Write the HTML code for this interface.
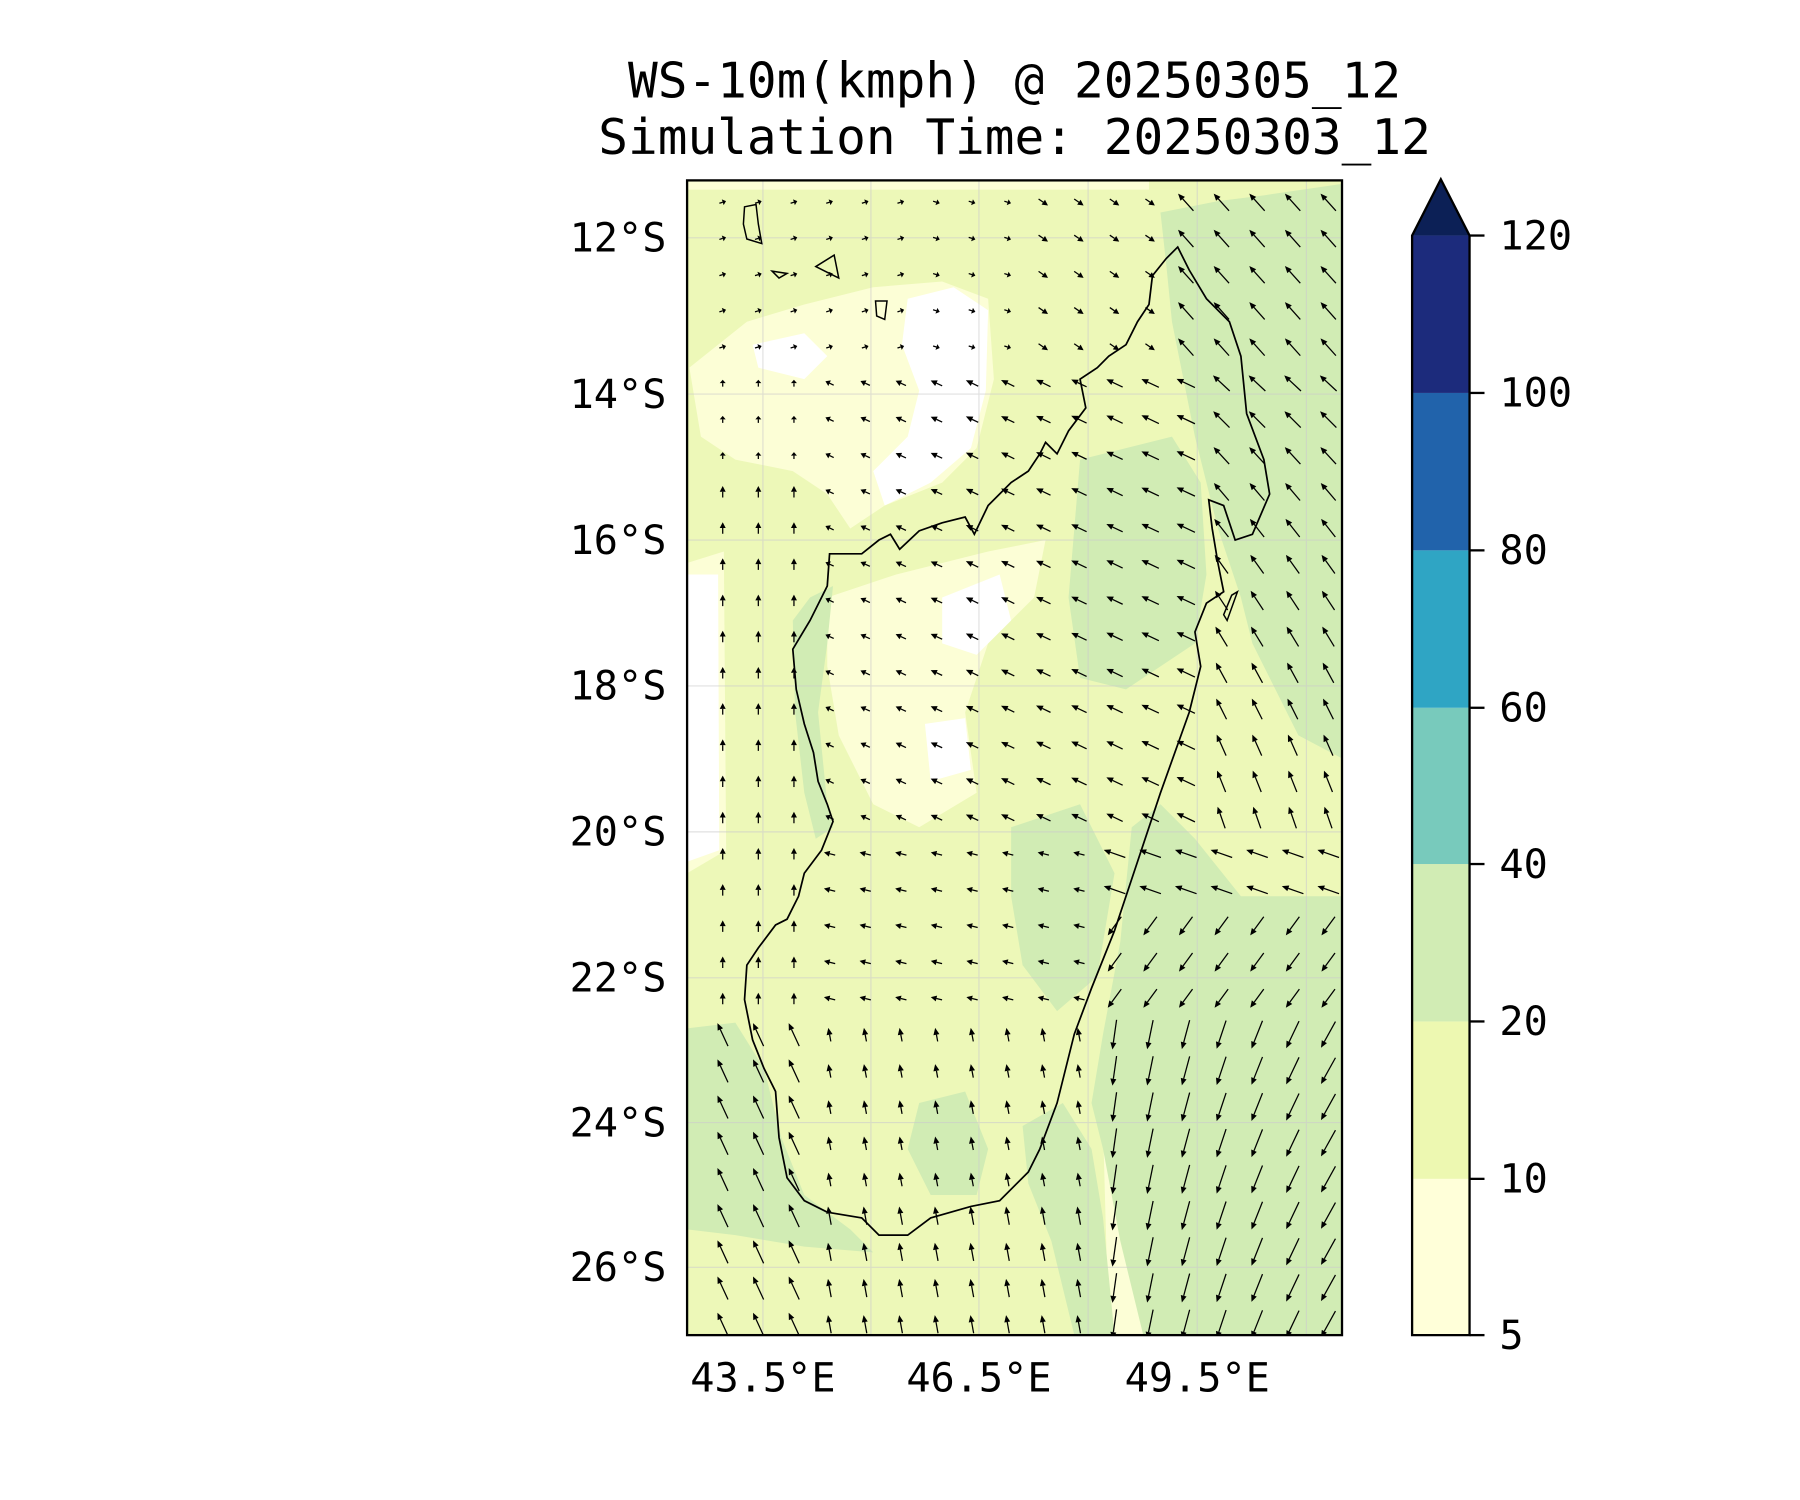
<!DOCTYPE html>
<html><head><meta charset="utf-8"><style>
html,body{margin:0;padding:0;background:#fff;width:1800px;height:1500px;overflow:hidden}
svg{display:block}
text{font-family:"DejaVu Sans Mono","Liberation Mono",monospace;fill:#000}
</style></head><body>
<svg id="s" width="1800" height="1500" viewBox="0 0 1566.6 1305.5" xmlns="http://www.w3.org/2000/svg">
<defs><clipPath id="cp"><rect x="598" y="157" width="570" height="1005"/></clipPath></defs>
<text x="883" y="85" font-size="43" text-anchor="middle">WS-10m(kmph) @ 20250305_12</text>
<text x="883" y="134" font-size="43" text-anchor="middle">Simulation Time: 20250303_12</text>
<g clip-path="url(#cp)">
<rect x="598" y="157" width="570" height="1005" fill="#edf8b8"/>
<path fill="#fcfed6" d="M650 280 L700 265 L760 250 L820 245 L860 260 L865 330 L850 390 L820 420 L770 440 L740 460 L720 430 L690 410 L640 400 L610 380 L600 320 Z"/>
<path fill="#ffffff" d="M790 260 L830 250 L860 270 L858 340 L845 390 L810 420 L770 440 L760 410 L790 380 L800 340 L785 300 Z"/>
<path fill="#ffffff" d="M655 300 L700 290 L720 310 L700 330 L660 320 Z"/>
<path fill="#fcfed6" d="M598 490 L630 480 L632 740 L598 760 Z"/>
<path fill="#ffffff" d="M598 500 L625 500 L626 740 L598 750 Z"/>
<path fill="#fcfed6" d="M720 520 L780 500 L860 480 L910 470 L900 520 L860 560 L840 620 L850 690 L800 720 L760 700 L730 640 L720 580 Z"/>
<path fill="#ffffff" d="M820 520 L870 500 L880 540 L850 570 L820 560 Z"/>
<path fill="#ffffff" d="M805 630 L840 625 L845 670 L810 680 Z"/>
<path fill="#fcfed6" d="M960 980 L985 980 L995 1162 L965 1162 Z"/>
<path fill="#fcfed6" d="M598 165 L1000 165 L1000 157 L598 157 Z"/>
<path fill="#d1ecb4" d="M1010 185 L1060 175 L1100 170 L1168 160 L1168 660 L1130 640 L1110 600 L1090 560 L1080 520 L1060 460 L1050 420 L1040 380 L1030 330 L1020 280 L1015 230 Z"/>
<path fill="#d1ecb4" d="M940 400 L980 390 L1020 380 L1045 420 L1050 500 L1040 560 L1010 580 L980 600 L940 590 L930 520 L935 460 Z"/>
<path fill="#d1ecb4" d="M985 720 L1010 700 L1040 730 L1080 780 L1168 780 L1168 1162 L995 1162 L975 1080 L960 1000 L950 960 L960 900 L975 820 Z"/>
<path fill="#d1ecb4" d="M880 720 L940 700 L970 760 L955 850 L920 880 L890 840 L880 780 Z"/>
<path fill="#d1ecb4" d="M890 980 L925 960 L950 1000 L960 1060 L970 1162 L935 1162 L915 1080 L895 1030 Z"/>
<path fill="#d1ecb4" d="M598 895 L640 890 L665 930 L680 990 L700 1040 L740 1070 L760 1090 L700 1085 L640 1075 L598 1070 Z"/>
<path fill="#d1ecb4" d="M690 540 L705 520 L725 510 L720 560 L712 620 L720 700 L725 720 L710 730 L700 690 L692 620 Z"/>
<path fill="#d1ecb4" d="M800 960 L840 950 L860 1000 L850 1040 L810 1040 L790 1000 Z"/>
<g stroke="#cccccc" stroke-width="1" opacity="0.6">
<line x1="598" x2="1168" y1="207" y2="207"/><line x1="598" x2="1168" y1="343" y2="343"/><line x1="598" x2="1168" y1="470" y2="470"/><line x1="598" x2="1168" y1="597" y2="597"/><line x1="598" x2="1168" y1="724" y2="724"/><line x1="598" x2="1168" y1="851" y2="851"/><line x1="598" x2="1168" y1="977" y2="977"/><line x1="598" x2="1168" y1="1103" y2="1103"/>
<line y1="157" y2="1162" x1="664" x2="664"/><line y1="157" y2="1162" x1="758" x2="758"/><line y1="157" y2="1162" x1="852" x2="852"/><line y1="157" y2="1162" x1="947" x2="947"/><line y1="157" y2="1162" x1="1042" x2="1042"/><line y1="157" y2="1162" x1="1137" x2="1137"/>
</g>
<path fill="none" stroke="#000" stroke-width="1.5" d="M1025 215 L1035 235 L1050 260 L1070 280 L1080 310 L1085 360 L1100 400 L1105 430 L1090 465 L1075 470 L1065 440 L1052 435 L1055 460 L1060 490 L1065 515 L1050 525 L1040 550 L1045 580 L1035 620 L1010 690 L990 750 L970 810 L950 860 L935 900 L920 960 L905 1000 L895 1020 L870 1045 L845 1050 L810 1060 L790 1075 L765 1075 L750 1060 L720 1055 L700 1045 L685 1025 L678 990 L675 950 L665 930 L655 905 L648 870 L650 840 L660 825 L675 805 L685 800 L695 780 L700 760 L715 740 L725 715 L720 700 L712 680 L708 655 L700 630 L693 600 L690 565 L705 540 L720 510 L722 482 L750 482 L765 470 L775 465 L783 478 L800 462 L820 455 L840 450 L848 465 L860 440 L880 420 L895 410 L905 395 L910 385 L920 395 L930 375 L945 355 L940 330 L955 320 L965 310 L980 300 L990 280 L1000 265 L1003 240 L1015 225 Z"/>
<path fill="none" stroke="#000" stroke-width="1.3" d="M648 180 L658 178 L660 195 L663 212 L650 208 L647 195 Z M672 236 L685 238 L678 242 Z M710 232 L726 222 L730 242 L718 236 Z M762 262 L772 262 L770 278 L763 275 Z M1072 518 L1077 515 L1068 540 L1065 535 Z"/>
<g id="arrows" fill="#000" stroke="#000"></g>
</g>
<rect x="598" y="157" width="570" height="1005" fill="none" stroke="#000" stroke-width="2"/>
<g font-size="35" text-anchor="end">
<text x="580" y="219">12°S</text><text x="580" y="355">14°S</text><text x="580" y="482">16°S</text><text x="580" y="609">18°S</text><text x="580" y="736">20°S</text><text x="580" y="863">22°S</text><text x="580" y="989">24°S</text><text x="580" y="1115">26°S</text>
</g>
<g font-size="35" text-anchor="middle">
<text x="664" y="1211">43.5°E</text><text x="852" y="1211">46.5°E</text><text x="1042" y="1211">49.5°E</text>
</g>
<rect x="1229" y="1026" width="50" height="136" fill="#ffffd9"/>
<rect x="1229" y="889" width="50" height="137" fill="#edf8b1"/>
<rect x="1229" y="752" width="50" height="137" fill="#d1ecb4"/>
<rect x="1229" y="616" width="50" height="136" fill="#78cabc"/>
<rect x="1229" y="479" width="50" height="137" fill="#2fa5c4"/>
<rect x="1229" y="342" width="50" height="137" fill="#2163ab"/>
<rect x="1229" y="205" width="50" height="137" fill="#1c2b7c"/>
<path d="M1229 205 L1254 156 L1279 205 Z" fill="#0c2056"/>
<path d="M1229 1162 L1229 205 L1254 156 L1279 205 L1279 1162 Z" fill="none" stroke="#000" stroke-width="2"/>
<g stroke="#000" stroke-width="2">
<line x1="1279" x2="1292" y1="205" y2="205"/><line x1="1279" x2="1292" y1="342" y2="342"/><line x1="1279" x2="1292" y1="479" y2="479"/><line x1="1279" x2="1292" y1="616" y2="616"/><line x1="1279" x2="1292" y1="752" y2="752"/><line x1="1279" x2="1292" y1="889" y2="889"/><line x1="1279" x2="1292" y1="1026" y2="1026"/><line x1="1279" x2="1292" y1="1162" y2="1162"/>
</g>
<g font-size="35">
<text x="1305" y="217">120</text><text x="1305" y="354">100</text><text x="1305" y="491">80</text><text x="1305" y="628">60</text><text x="1305" y="764">40</text><text x="1305" y="901">20</text><text x="1305" y="1038">10</text><text x="1305" y="1174">5</text>
</g>
</svg>
<script>
(function(){
var g=document.getElementById('arrows'),h='';
for(var j=0;j<32;j++){var y=176+j*31.5;
 for(var i=0;i<18;i++){var x=629+i*31;
  var ang,len;
  if(y<330){ if(x>1010){ang=-2.3;len=20;} else {ang=(x<800?-0.3:0.3)+ (x>880?0.3:0);len=6; if(x>900)len=10;} }
  else if(y<720){ if(x<720&&y>330){ang=-Math.PI/2;len=y<400?6:10;} else if(x>1040){ang=-2.4+ (y-330)/390*0.5;len=20;} else {ang=-2.7;len=8+ (x-720)/320*10;} }
  else if(y<900){ if(x<700){ang=-Math.PI/2;len=10;} else if(x>960){ang=(y>800?2.2:-2.8);len=20;} else {ang=-2.9;len=10;} }
  else { if(x<700){ang=-2.0;len=22;} else if(x<970){ang=-1.75;len=y>1050?16:12;} else {ang=1.75+(x-990)/180*0.35;len=26;} }
  var dx=Math.cos(ang)*len,dy=Math.sin(ang)*len;
  var x0=x-dx/2,y0=y-dy/2,x1=x+dx/2,y1=y+dy/2;
  var hl=Math.min(6,len*0.5),hw=2.6,ux=dx/len,uy=dy/len;
  var bx=x1-ux*hl,by=y1-uy*hl;
  h+='<line x1="'+x0.toFixed(1)+'" y1="'+y0.toFixed(1)+'" x2="'+bx.toFixed(1)+'" y2="'+by.toFixed(1)+'" stroke-width="1.1"/>';
  h+='<path stroke="none" d="M'+x1.toFixed(1)+' '+y1.toFixed(1)+' L'+(bx-uy*hw).toFixed(1)+' '+(by+ux*hw).toFixed(1)+' L'+(bx+uy*hw).toFixed(1)+' '+(by-ux*hw).toFixed(1)+' Z"/>';
 }}
g.innerHTML=h;
})();
</script>
</body></html>
